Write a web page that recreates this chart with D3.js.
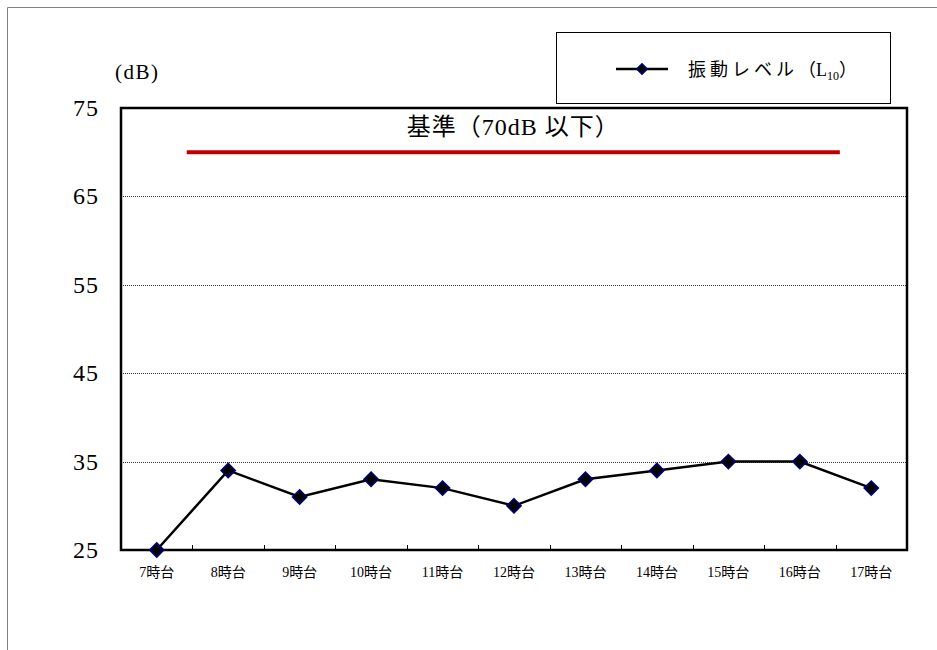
<!DOCTYPE html>
<html><head><meta charset="utf-8">
<script src="https://cdn.jsdelivr.net/npm/d3@7"></script>
<style>
html,body{margin:0;padding:0;background:#fff;}
text{font-family:"Liberation Serif","DejaVu Serif","Noto Sans CJK JP",serif;}
</style></head>
<body>
<svg id="c" width="937" height="650"></svg>
<script>
const categories = ["7時台","8時台","9時台","10時台","11時台","12時台","13時台","14時台","15時台","16時台","17時台"];
const values = [25,34,31,33,32,30,33,34,35,35,32];
const yTicks = [25,35,45,55,65,75];
const gridValues = [35,45,55,65];
const seriesName = "振動レベル";
const standardValue = 70;
const standardLabel = "基準（70dB 以下）";
const standardRange = [0.42, 9.56]; // in category-index units
const yUnit = "(dB)";

const svg = d3.select("#c");
const W = 937, H = 650;
const m = {left:121, top:108, right:907, bottom:550};

// outer frame
svg.append("path").attr("d", `M7.5,${H} L7.5,7.5 L${W},7.5`).attr("fill","none").attr("stroke","#808080").attr("stroke-width",1);

const x = d3.scaleBand().domain(categories).range([m.left, m.right]).padding(0);
const xi = d3.scaleLinear().domain([-0.5, categories.length-0.5]).range([m.left, m.right]);
const y = d3.scaleLinear().domain([25,75]).range([m.bottom, m.top]);

// grid
svg.append("g").selectAll("line").data(gridValues).join("line")
  .attr("x1", m.left).attr("x2", m.right)
  .attr("y1", d=>Math.round(y(d))+0.5).attr("y2", d=>Math.round(y(d))+0.5)
  .attr("stroke","#333").attr("stroke-width",1).attr("stroke-dasharray","1,1");

// x ticks (inside)
svg.append("g").selectAll("line").data(categories.slice(1)).join("line")
  .attr("x1", d=>Math.round(x(d))+0.5).attr("x2", d=>Math.round(x(d))+0.5)
  .attr("y1", m.bottom).attr("y2", m.bottom-5)
  .attr("stroke","#000").attr("stroke-width",1);

// plot border
svg.append("rect").attr("x", m.left).attr("y", m.top)
  .attr("width", m.right-m.left).attr("height", m.bottom-m.top)
  .attr("fill","none").attr("stroke","#000").attr("stroke-width",2.5);

// y labels
svg.append("g").selectAll("text").data(yTicks).join("text")
  .attr("x", 99).attr("y", d=>y(d)+8).attr("text-anchor","end")
  .attr("font-size",24).attr("letter-spacing",1).attr("fill","#000").text(d=>d);

svg.append("text").attr("x",115).attr("y",79).attr("font-size",21).attr("letter-spacing",1.5).text(yUnit);

// x labels
svg.append("g").selectAll("text").data(categories).join("text")
  .attr("x", d=>x(d)+x.bandwidth()/2).attr("y", 577).attr("text-anchor","middle")
  .attr("font-size",14).attr("fill","#000").text(d=>d);

// standard line
svg.append("line").attr("x1", xi(standardRange[0])).attr("x2", xi(standardRange[1]))
  .attr("y1", y(standardValue)).attr("y2", y(standardValue))
  .attr("stroke","#c00000").attr("stroke-width",4);
svg.append("text").attr("x", (xi(standardRange[0])+xi(standardRange[1]))/2).attr("y", y(standardValue)-17)
  .attr("text-anchor","middle").attr("font-size",24).attr("letter-spacing",1).attr("fill","#000").text(standardLabel);

// series line
const line = d3.line().x((d,i)=>x(categories[i])+x.bandwidth()/2).y(d=>y(d));
svg.append("path").datum(values).attr("d", line).attr("fill","none").attr("stroke","#000").attr("stroke-width",2.5);

const diamond = d3.symbol().type(d3.symbolDiamond2).size(130);
svg.append("g").selectAll("path").data(values).join("path")
  .attr("transform",(d,i)=>`translate(${x(categories[i])+x.bandwidth()/2},${y(d)})`)
  .attr("d", diamond).attr("fill","#000").attr("stroke","#000080").attr("stroke-width",1.5);

// legend
const lg = svg.append("g");
lg.append("rect").attr("x",556.5).attr("y",32.5).attr("width",334).attr("height",71)
  .attr("fill","#fff").attr("stroke","#000").attr("stroke-width",1);
lg.append("line").attr("x1",616).attr("x2",668).attr("y1",69).attr("y2",69).attr("stroke","#000").attr("stroke-width",2.5);
lg.append("path").attr("transform","translate(642,69)").attr("d", d3.symbol().type(d3.symbolDiamond2).size(70))
  .attr("fill","#000").attr("stroke","#000080").attr("stroke-width",1.5);
const lt = lg.append("text").attr("x",688).attr("y",76).attr("font-size",18).attr("fill","#000");
lt.append("tspan").attr("letter-spacing",4).text(seriesName);
lt.append("tspan").text("（L");
lt.append("tspan").attr("font-size",12).attr("dy",4).text("10");
lt.append("tspan").attr("dy",-4).text("）");
</script>
</body></html>
